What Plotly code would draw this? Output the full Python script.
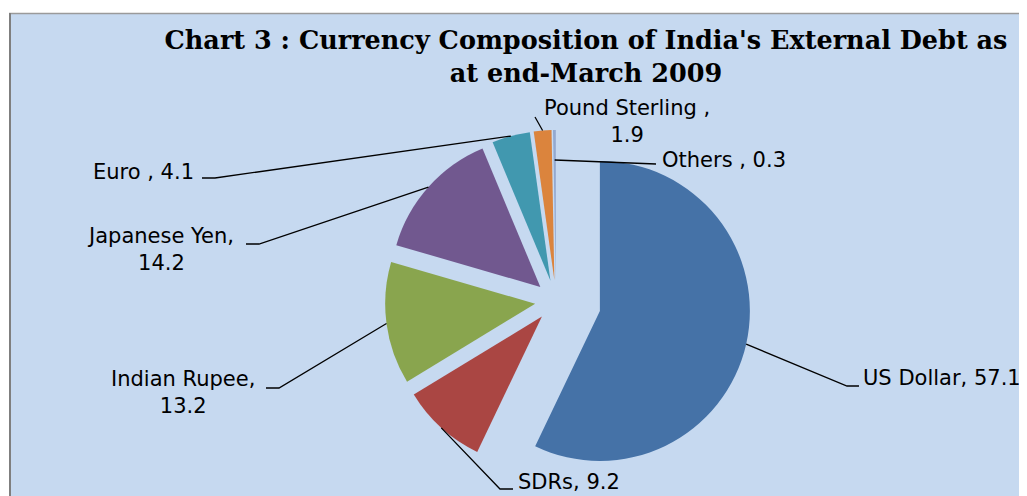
import math
import plotly.graph_objects as go

# ---------------- data ----------------
currencies = ["US Dollar", "SDRs", "Indian Rupee", "Japanese Yen", "Euro", "Pound Sterling", "Others"]
shares = [57.1, 9.2, 13.2, 14.2, 4.1, 1.9, 0.3]
label_prefix = ["US Dollar, ", "SDRs, ", "Indian Rupee,<br>", "Japanese Yen,<br>", "Euro , ", "Pound Sterling ,<br>", "Others , "]

# ---------------- style / layout ----------------
colors = ["#4572A7", "#AA4643", "#89A54E", "#71588F", "#4198AF", "#DB843D", "#93A9CF"]
pulls = [0.30, 0.14, 0.14, 0.14, 0.14, 0.14, 0.14]
BG = "#C6D9F0"
OFF = 8                      # default page body margin
PAGE_W, PAGE_H = 1027, 496
W, H = PAGE_W - OFF, PAGE_H - OFF
R = 150                      # pie radius in px
PMAX = max(pulls)
CX = 556                     # pie centre x (page px)
dom_h = 2 * R * (1 + PMAX) / H
CY = PAGE_H - R * (1 + PMAX) # pie centre y (page px)
half_w = 0.22
LABEL_FONT = dict(family="DejaVu Sans, Arial, sans-serif", size=21, color="black")


def pg(x, y):
    """page pixel -> figure paper fraction"""
    return (x - OFF) / W, 1 - (y - OFF) / H


# label layout (page pixels): text x, text y, xanchor, leader elbow points, attach fraction of radius
label_layout = [
    dict(x=861, y=378, anchor="left", elbow=[(859, 386), (847, 386)], f=1.0),
    dict(x=516, y=482, anchor="left", elbow=[(513, 489), (500, 489)], f=1.0),
    dict(x=183, y=392, anchor="center", elbow=[(266, 388), (279, 388)], f=1.0),
    dict(x=160, y=249, anchor="center", elbow=[(246, 244), (259, 244)], f=1.0),
    dict(x=196, y=172, anchor="right", elbow=[(202, 178), (215, 178)], f=1.0),
    dict(x=627, y=121, anchor="center", elbow=[(535, 117)], f=1.0),
    dict(x=660, y=160, anchor="left", elbow=[(656, 164)], f=0.80),
]

fig = go.Figure()
dx0, _ = pg(CX, 0)
fig.add_trace(go.Pie(
    labels=currencies, values=shares, sort=False, direction="clockwise", rotation=0,
    pull=pulls, marker=dict(colors=colors, line=dict(width=0)),
    textinfo="none", hoverinfo="label+value", showlegend=False,
    domain=dict(x=[dx0 - half_w, dx0 + half_w], y=[0, dom_h]),
))

total = sum(shares)
cum = 0.0
annotations = []
shapes = []
for name, val, pre, lay, p in zip(currencies, shares, label_prefix, label_layout, pulls):
    mid = (cum + val / 2) / total * 2 * math.pi
    cum += val
    pcx = CX + p * R * math.sin(mid)
    pcy = CY - p * R * math.cos(mid)
    ex = pcx + lay["f"] * R * math.sin(mid)
    ey = pcy - lay["f"] * R * math.cos(mid)
    pts = lay["elbow"] + [(ex, ey)]
    path = ""
    for i, (x, y) in enumerate(pts):
        px, py = pg(x, y)
        path += ("M" if i == 0 else " L") + f" {px:.5f},{py:.5f}"
    shapes.append(dict(type="path", xref="paper", yref="paper", path=path,
                       line=dict(color="black", width=1.3), layer="above"))
    ax, ay = pg(lay["x"], lay["y"])
    annotations.append(dict(
        text=f"{pre}{val}", x=ax, y=ay, xref="paper", yref="paper",
        xanchor=lay["anchor"], yanchor="middle", align="center", showarrow=False,
        font=LABEL_FONT,
    ))

# white outer strip + grey frame (page coords: frame at x=10, y=13.5)
fx_l, fy_t = pg(10, 13.5)
_, fy_w = pg(0, 13)
fx_w, _ = pg(9, 0)
shapes = [
    dict(type="rect", xref="paper", yref="paper", x0=0, x1=1, y0=fy_w, y1=1,
         fillcolor="white", line=dict(width=0), layer="below"),
    dict(type="rect", xref="paper", yref="paper", x0=0, x1=fx_w, y0=0, y1=1,
         fillcolor="white", line=dict(width=0), layer="below"),
    dict(type="line", xref="paper", yref="paper", x0=fx_w, x1=1, y0=fy_t, y1=fy_t,
         line=dict(color="#9A9A9A", width=1.5), layer="below"),
    dict(type="line", xref="paper", yref="paper", x0=fx_l, x1=fx_l, y0=0, y1=fy_w,
         line=dict(color="#7F7F7F", width=2), layer="below"),
] + shapes

fig.update_layout(
    width=W, height=H, margin=dict(l=0, r=0, t=0, b=0),
    paper_bgcolor=BG, plot_bgcolor=BG,
    title=dict(
        text="<b>Chart 3 : Currency Composition of India's External Debt as<br>at end-March 2009</b>",
        x=(586 - OFF) / W, xanchor="center", xref="paper", y=1 - 41 / H, yanchor="top", yref="container",
        font=dict(family="DejaVu Serif, Liberation Serif, serif", size=25.5, color="black"),
    ),
    shapes=shapes, annotations=annotations,
)

fig.write_html("out.html")
